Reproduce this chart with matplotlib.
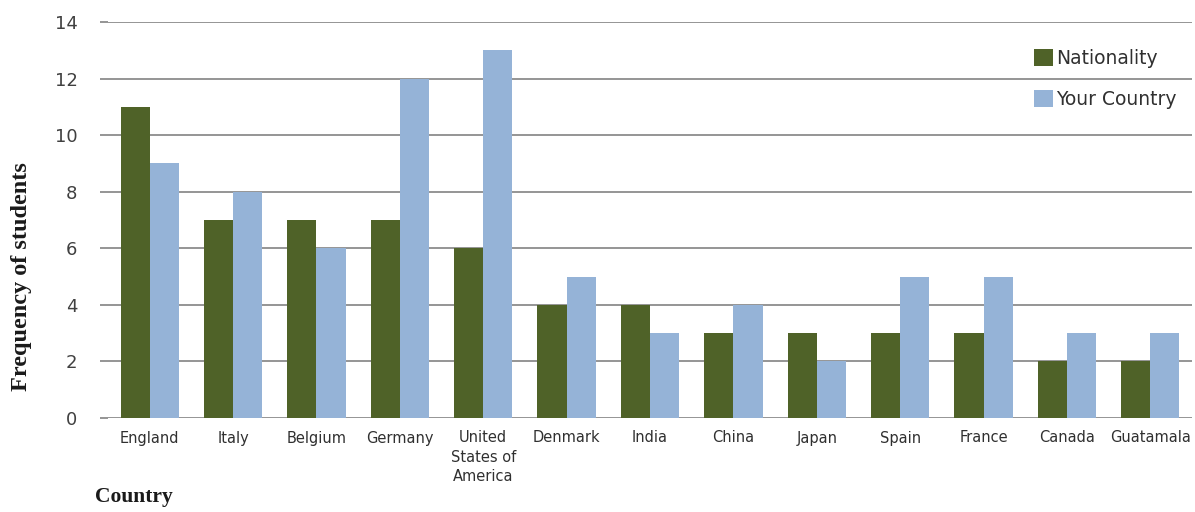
import matplotlib
matplotlib.use("Agg")
import matplotlib.pyplot as plt
import numpy as np

countries = ["England", "Italy", "Belgium", "Germany", "United\nStates of\nAmerica",
             "Denmark", "India", "China", "Japan", "Spain", "France", "Canada", "Guatamala"]
nationality = [11, 7, 7, 7, 6, 4, 4, 3, 3, 3, 3, 2, 2]
your_country = [9, 8, 6, 12, 13, 5, 3, 4, 2, 5, 5, 3, 3]
yticks = [0, 2, 4, 6, 8, 10, 12, 14]

green = "#4F6228"
blue = "#95B3D7"
grid_c = "#8C8C8C"

fig = plt.figure(figsize=(11.95, 5.12), dpi=100)
ax = fig.add_axes([108/1195, 1-418/512, (1192-108)/1195, (418-22)/512])

x = np.arange(len(countries))
w = 0.35
ax.bar(x - w/2, nationality, w, color=green, label="Nationality", zorder=3)
ax.bar(x + w/2, your_country, w, color=blue, label="Your Country", zorder=3)

ax.set_xlim(-0.5, len(countries) - 0.5)
ax.set_ylim(0, 14)
ax.set_yticks(yticks)
ax.set_yticklabels([str(v) for v in yticks], fontsize=13, color="#404040",
                   family="DejaVu Sans")
ax.yaxis.grid(True, color=grid_c, linewidth=1.3)
ax.set_axisbelow(True)
for s in ax.spines.values():
    s.set_visible(False)
ax.tick_params(axis="y", length=6, color=grid_c, width=1.3, pad=16)
ax.set_xticks(x)
ax.set_xticklabels(countries, fontsize=10.5, color="#303030", linespacing=1.35,
                   family="DejaVu Sans")
ax.tick_params(axis="x", length=0, pad=9)

fig.text(22/1195, 1-277/512, "Frequency of students", rotation=90, va="center", ha="center",
         fontsize=17.5, fontweight="bold", family="Liberation Serif", color="#1a1a1a")
fig.text(95/1195, 1-497/512, "Country", va="center", ha="left",
         fontsize=15.5, fontweight="bold", family="Liberation Serif", color="#1a1a1a")

leg = ax.legend(loc="upper left", bbox_to_anchor=(1020/1195, 1-35/512),
                bbox_transform=fig.transFigure, frameon=False, fontsize=13.5,
                handlelength=1.0, handleheight=1.0, handletextpad=0.15,
                labelspacing=1.15, borderpad=0.75, borderaxespad=0)
for t in leg.get_texts():
    t.set_color("#303030")

fig.savefig("out.png", dpi=100)
